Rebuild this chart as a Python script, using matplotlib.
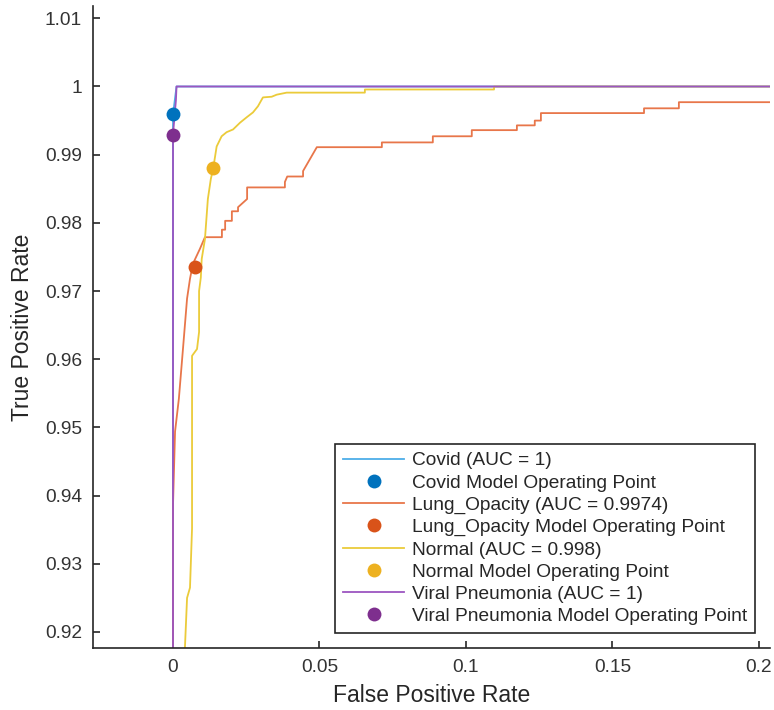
import matplotlib
matplotlib.use("Agg")
import matplotlib.pyplot as plt
from matplotlib.ticker import FixedLocator, FuncFormatter

plt.rcParams['font.family'] = ['Liberation Sans', 'DejaVu Sans']

# ---- data ----
covid_fpr = [0.0, 0.0, 0.0012, 1.0]
covid_tpr = [0.0, 0.9959, 1.0, 1.0]
covid_op = (0.0, 0.9959)

lung_fpr = [0.0, 0.0, 0.0007, 0.0020, 0.0034, 0.0048, 0.0058, 0.0068, 0.0092, 0.0109,
            0.0167, 0.0167, 0.0178, 0.0178, 0.0201, 0.0201, 0.0222, 0.0222, 0.0253,
            0.0253, 0.0382, 0.0382, 0.0390, 0.0444, 0.0444, 0.0491, 0.0713, 0.0713,
            0.0887, 0.0887, 0.1020, 0.1020, 0.1174, 0.1174, 0.1235, 0.1235, 0.1256,
            0.1256, 0.1608, 0.1608, 0.1727, 0.1727, 0.2100]
lung_tpr = [0.0, 0.9386, 0.9494, 0.9542, 0.9615, 0.9689, 0.9718, 0.9740, 0.9762, 0.9779,
            0.9779, 0.9790, 0.9790, 0.9803, 0.9803, 0.9817, 0.9817, 0.9823, 0.9835,
            0.9852, 0.9852, 0.9860, 0.9868, 0.9868, 0.9876, 0.9911, 0.9911, 0.9918,
            0.9918, 0.9927, 0.9927, 0.9936, 0.9936, 0.9943, 0.9943, 0.9950, 0.9950,
            0.9961, 0.9961, 0.9968, 0.9968, 0.9977, 0.9977]
lung_op = (0.0075, 0.9736)

normal_fpr = [0.0038, 0.0041, 0.0048, 0.0058, 0.0065, 0.0065, 0.0082, 0.0089, 0.0089,
              0.0095, 0.0098, 0.0109, 0.0119, 0.0129, 0.0138, 0.0149, 0.0166, 0.0183,
              0.0205, 0.0229, 0.0252, 0.0273, 0.0290, 0.0307, 0.0337, 0.0354, 0.0388,
              0.0655, 0.0655, 0.1096, 0.1096, 1.0]
normal_tpr = [0.9150, 0.9180, 0.9250, 0.9265, 0.9352, 0.9605, 0.9615, 0.9640, 0.9700,
              0.9720, 0.9747, 0.9776, 0.9835, 0.9864, 0.9882, 0.9912, 0.9927, 0.9933,
              0.9937, 0.9947, 0.9955, 0.9962, 0.9971, 0.9984, 0.9985, 0.9988, 0.9991,
              0.9991, 0.99956, 0.99956, 1.0, 1.0]
normal_op = (0.0137, 0.9881)

viral_fpr = [0.0, 0.0, 0.0010, 0.0012, 1.0]
viral_tpr = [0.0, 0.9930, 0.9980, 1.0, 1.0]
viral_op = (0.0, 0.9929)

labels = ["Covid (AUC = 1)", "Covid Model Operating Point",
          "Lung_Opacity (AUC = 0.9974)", "Lung_Opacity Model Operating Point",
          "Normal (AUC = 0.998)", "Normal Model Operating Point",
          "Viral Pneumonia (AUC = 1)", "Viral Pneumonia Model Operating Point"]

line_colors = ["#4DAEE8", "#E8764A", "#EBCB3A", "#9C55C0"]
point_colors = ["#0072BD", "#D95319", "#EDB120", "#7E2F8E"]

xticks = [0, 0.05, 0.1, 0.15, 0.2]
yticks = [0.92, 0.93, 0.94, 0.95, 0.96, 0.97, 0.98, 0.99, 1.0, 1.01]

# ---- figure ----
fig = plt.figure(figsize=(7.74, 7.10), dpi=100)
ax = fig.add_axes([0.1202, 0.0873, 0.9948 - 0.1202, 0.9915 - 0.0873])

curves = [(covid_fpr, covid_tpr, covid_op), (lung_fpr, lung_tpr, lung_op),
          (normal_fpr, normal_tpr, normal_op), (viral_fpr, viral_tpr, viral_op)]
zorders = [2.0, 2.1, 2.2, 2.4]
handles = []
for i, (fx, ty, op) in enumerate(curves):
    ln, = ax.plot(fx, ty, color=line_colors[i], lw=1.3, zorder=zorders[i])
    pt, = ax.plot([op[0]], [op[1]], 'o', color=point_colors[i], markersize=10,
                  markeredgewidth=0, zorder=5)
    handles += [ln, pt]

ax.set_xlim(-0.0273, 0.2038)
ax.set_ylim(0.91765, 1.0118)
ax.xaxis.set_major_locator(FixedLocator(xticks))
ax.yaxis.set_major_locator(FixedLocator(yticks))
fmt = FuncFormatter(lambda v, p: f"{v:g}")
ax.xaxis.set_major_formatter(fmt)
ax.yaxis.set_major_formatter(fmt)

for s in ['top', 'right']:
    ax.spines[s].set_visible(False)
for s in ['left', 'bottom']:
    ax.spines[s].set_color('#262626')
    ax.spines[s].set_linewidth(1.2)
ax.tick_params(direction='in', length=5, width=1.2, colors='#262626',
               labelsize=13.8, labelcolor='#333333', pad=8)

ax.set_xlabel("False Positive Rate", fontsize=16.5, color='#262626', labelpad=6)
ax.set_ylabel("True Positive Rate", fontsize=16.5, color='#262626', labelpad=8)

leg = ax.legend(handles, labels, loc='lower right', bbox_to_anchor=(0.978, 0.023),
                borderaxespad=0, fontsize=13.8, frameon=True, fancybox=False,
                edgecolor='#262626', framealpha=1, handlelength=3.2,
                handletextpad=0.4, labelspacing=0.25, borderpad=0.42)
leg.get_frame().set_linewidth(1.2)
for t in leg.get_texts():
    t.set_color('#262626')

fig.savefig("out.png", dpi=100)
